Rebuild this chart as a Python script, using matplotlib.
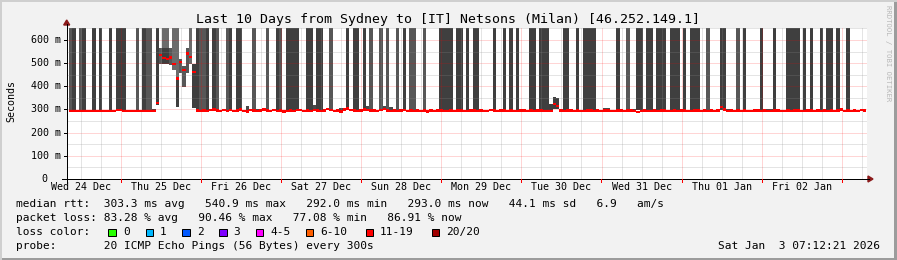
import matplotlib
matplotlib.use("Agg")
import matplotlib.pyplot as plt
from matplotlib.patches import Polygon, Rectangle
import numpy as np

W, H, DPI = 897, 260, 100

# ---------------- data ----------------
title = "Last 10 Days from Sydney to [IT] Netsons (Milan) [46.252.149.1]"
y_label = "Seconds"
y_ticks = [0, 100, 200, 300, 400, 500, 600]
y_tick_labels = ["0", "100 m", "200 m", "300 m", "400 m", "500 m", "600 m"]
day_labels = ["Wed 24 Dec", "Thu 25 Dec", "Fri 26 Dec", "Sat 27 Dec", "Sun 28 Dec",
              "Mon 29 Dec", "Tue 30 Dec", "Wed 31 Dec", "Thu 01 Jan", "Fri 02 Jan"]
first_midnight = 15.6      # hours (1h steps) from first step to Thu 25 Dec 00:00

# median rtt per 1-hour step (ms)
median = [
    294,294,294,294,294,294,294,294,294,294,294,294,294,294,298,298,294,294,294,294,294,294,294,294,
    294,294,329,536,522,518,524,495,434,506,469,541,528,462,295,293,296,294,297,300,296,293,298,294,
    297,293,295,300,294,292,297,295,293,296,300,295,293,298,294,295,292,294,295,294,299,297,293,295,
    294,298,295,293,296,301,297,294,296,292,300,304,297,295,293,296,300,299,295,296,294,298,301,295,
    294,296,293,295,297,294,295,293,296,294,295,292,296,294,295,296,294,293,295,294,296,295,293,294,
    295,296,294,295,293,294,297,295,294,296,295,294,295,293,294,296,295,294,295,294,296,295,293,294,
    293,325,316,296,294,295,296,294,295,293,294,295,296,294,295,294,296,295,293,294,296,295,294,295,
    296,294,290,294,295,294,293,295,294,296,295,294,293,295,294,296,295,294,293,295,296,294,295,294,
    295,294,296,311,300,294,295,293,296,294,295,294,293,296,295,294,295,293,294,296,295,294,293,295,
    294,296,295,294,293,296,295,294,295,293,296,294,295,294,296,300,294,295,293,296,294,299,295,
]

# steps whose smoke fills from the baseline beyond the top of the graph
smoke_top = 720
smoke_base = 296
full_dark = [1, 4, 7, 9, 12, 14, 15, 16, 22, 38, 41, 43, 48, 50, 51, 62, 65, 66, 67, 68,
             71, 72, 74, 75, 83, 85, 86, 88, 100, 111, 112, 113, 114, 116, 117, 119, 121, 122,
             127, 130, 132, 134, 138, 139, 141, 142, 143, 148, 149, 152, 154, 155, 156, 157,
             164, 170, 171, 173, 174, 176, 177, 178, 180, 181, 182, 184, 186, 187, 188, 195,
             196, 202, 207, 211, 215, 216, 217, 218, 220, 222, 225, 227, 228, 230, 233]
full_medium = [0, 3, 20, 23, 24, 39, 40, 44, 47, 55, 59, 63, 78, 90, 93, 95, 98, 102, 103,
               106, 167, 191, 200]

# partial smoke (step, low ms, high ms)
dark_step = [26, 28, 29, 32, 37, 145, 146, 144]
dark_lo = [320, 496, 496, 310, 308, 300, 300, 296]
dark_hi = [720, 567, 567, 442, 495, 355, 350, 322]
medium_step = [27, 30, 33, 34, 35]
medium_lo = [496, 490, 459, 398, 459]
medium_hi = [567, 567, 516, 488, 567]
light_step = [28, 29, 31, 32, 36]
light_lo = [567, 567, 470, 442, 495]
light_hi = [720, 720, 720, 720, 720]
low_step = [25, 53, 56, 73, 81, 82, 89, 94, 96, 126, 160, 161, 169, 175, 197, 209, 210]
low_hi = [303, 315, 302, 318, 305, 305, 315, 315, 310, 300, 305, 305, 300, 300, 303, 303, 303]

stats_line1 = "median rtt:  303.3 ms avg   540.9 ms max   292.0 ms min   293.0 ms now   44.1 ms sd   6.9   am/s"
stats_line2 = "packet loss: 83.28 % avg   90.46 % max   77.08 % min   86.91 % now"
loss_label = "loss color:"
loss_names = ["0", "1", "2", "3", "4-5", "6-10", "11-19", "20/20"]
loss_colors = ["#26ff00", "#00b8ff", "#0059ff", "#7e00ff", "#ff00ff", "#ff5e00", "#ff0000", "#a10000"]
probe_line = "probe:       20 ICMP Echo Pings (56 Bytes) every 300s"
stamp = "Sat Jan  3 07:12:21 2026"
watermark = "RRDTOOL / TOBI OETIKER"

# ---------------- drawing ----------------
MONO = "DejaVu Sans Mono"
fig = plt.figure(figsize=(W / DPI, H / DPI), dpi=DPI)
fig.patch.set_facecolor("#f2f2f2")

def fx(x):
    return x / W

def fy(y):
    return 1 - y / H

PL, PR, PT, PB = 66.7, 866.7, 27.7, 179.0
ax = fig.add_axes([fx(PL), fy(PB), (PR - PL) / W, (PB - PT) / H])
ax.set_facecolor("white")
for s in ax.spines.values():
    s.set_visible(False)
ax.set_xticks([])
ax.set_yticks([])
ax.set_xlim(-0.66, 239.07)
ax.set_ylim(0, 653)

DARK, MED, LIGHT, LOW = "#3f3f3f", "#575757", "#6b6b6b", "#4a4a4a"
kw = dict(width=1, align="edge", linewidth=0, antialiased=False)
ax.bar(full_dark, smoke_top - smoke_base, bottom=smoke_base, color=DARK, zorder=2, **kw)
ax.bar(full_medium, smoke_top - smoke_base, bottom=smoke_base, color=MED, zorder=2, **kw)
ax.bar(light_step, np.subtract(light_hi, light_lo), bottom=light_lo, color=LIGHT, zorder=2, **kw)
ax.bar(medium_step, np.subtract(medium_hi, medium_lo), bottom=medium_lo, color=MED, zorder=3, **kw)
ax.bar(dark_step, np.subtract(dark_hi, dark_lo), bottom=dark_lo, color=DARK, zorder=3, **kw)
ax.bar(low_step, np.subtract(low_hi, smoke_base), bottom=smoke_base, color=LOW, zorder=2, **kw)

med = np.array(median, dtype=float)
ax.bar(np.arange(len(med)), 10, bottom=med - 5, color="#ff0000", zorder=6, **kw)

# grid (drawn over the smoke, like rrdtool)
dot = (0, (1, 1))
for v in range(50, 660, 50):
    c = (1, 0, 0, 0.33) if v % 100 == 0 else (0.55, 0.55, 0.55, 0.45)
    ax.axhline(v, color=c, lw=0.72, ls=dot, zorder=5)
hrs = np.arange(first_midnight - 24, 240, 6)
for h in hrs:
    if h < -0.5 or h > 239:
        continue
    major = abs(((h - first_midnight) % 24)) < 1e-6
    c = (1, 0, 0, 0.33) if major else (0.55, 0.55, 0.55, 0.45)
    ax.axvline(h, color=c, lw=0.72, ls=dot, zorder=5)

# axes lines and arrows (figure pixel coordinates)
fig.add_artist(plt.Line2D([fx(62), fx(869)], [fy(PB), fy(PB)], color="black", lw=0.72))
fig.add_artist(plt.Line2D([fx(PL), fx(PL)], [fy(183), fy(24)], color="black", lw=0.72))
fig.add_artist(Polygon([[fx(868), fy(176)], [fx(873), fy(179)], [fx(868), fy(182)]],
                       closed=True, color="#8b1a1a", transform=fig.transFigure))
fig.add_artist(Polygon([[fx(63.7), fy(25)], [fx(PL), fy(20)], [fx(69.7), fy(25)]],
                       closed=True, color="#8b1a1a", transform=fig.transFigure))

# y tick labels
for v, lab in zip(y_ticks, y_tick_labels):
    ypix = PB - v * (PB - PT) / 653
    xr = 61 if lab.endswith("m") else 47
    fig.text(fx(xr), fy(ypix), lab, ha="right", va="center", family=MONO, fontsize=7.2)
    fig.add_artist(plt.Line2D([fx(64), fx(PL)], [fy(ypix), fy(ypix)], color="black", lw=0.72))

# x labels at noon of each day
for k, lab in enumerate(day_labels):
    h = first_midnight - 12 + 24 * k
    xpix = 68.9 + 3.337 * h
    fig.text(fx(xpix), fy(187.5), lab, ha="center", va="center", family=MONO, fontsize=7.2)
for k in range(10):
    h = first_midnight + 24 * k
    xpix = 68.9 + 3.337 * h
    fig.add_artist(plt.Line2D([fx(xpix), fx(xpix)], [fy(PB), fy(PB + 2.5)], color="#ff0000", lw=0.72))

fig.text(fx(448), fy(19), title, ha="center", va="center", family=MONO, fontsize=9.5)
fig.text(fx(11), fy(101), y_label, ha="center", va="center", rotation=90, family=MONO, fontsize=7.2)
fig.text(fx(888), fy(5), watermark, ha="center", va="top", rotation=270, family=MONO,
         fontsize=5.2, color="#b8b8b8")

# legend
LX = 16.3
fig.text(fx(LX), fy(204), stats_line1, ha="left", va="center", family=MONO, fontsize=8.05)
fig.text(fx(LX), fy(218.3), stats_line2, ha="left", va="center", family=MONO, fontsize=8.05)
fig.text(fx(LX), fy(232), loss_label, ha="left", va="center", family=MONO, fontsize=8.05)
sw_x = [108.3, 145.7, 182.3, 219.0, 255.7, 305.7, 365.7, 431.7]
tx_x = [123.3, 160.0, 196.7, 233.3, 270.0, 320.7, 380.0, 445.7]
for name, col, sx, tx in zip(loss_names, loss_colors, sw_x, tx_x):
    fig.add_artist(Rectangle((fx(sx), fy(236)), 7.5 / W, 7.5 / H, facecolor=col,
                             edgecolor="black", lw=0.72, transform=fig.transFigure))
    fig.text(fx(tx), fy(232), name, ha="left", va="center", family=MONO, fontsize=8.05)
fig.text(fx(LX), fy(246.3), probe_line, ha="left", va="center", family=MONO, fontsize=8.05)
fig.text(fx(880), fy(246.3), stamp, ha="right", va="center", family=MONO, fontsize=8.05)

# 3D frame
fig.add_artist(Rectangle((0, 0), 1, 2 / H, color="#9c9c9c", transform=fig.transFigure, lw=0))
fig.add_artist(Rectangle((1 - 3 / W, 0), 3 / W, 1, color="#9c9c9c", transform=fig.transFigure, lw=0))
fig.add_artist(Rectangle((0, 0), 2 / W, 1, color="#cfcfcf", transform=fig.transFigure, lw=0))
fig.add_artist(Rectangle((0, 1 - 2 / H), 1, 2 / H, color="#cfcfcf", transform=fig.transFigure, lw=0))

fig.savefig("out.png", dpi=DPI, facecolor=fig.get_facecolor())
